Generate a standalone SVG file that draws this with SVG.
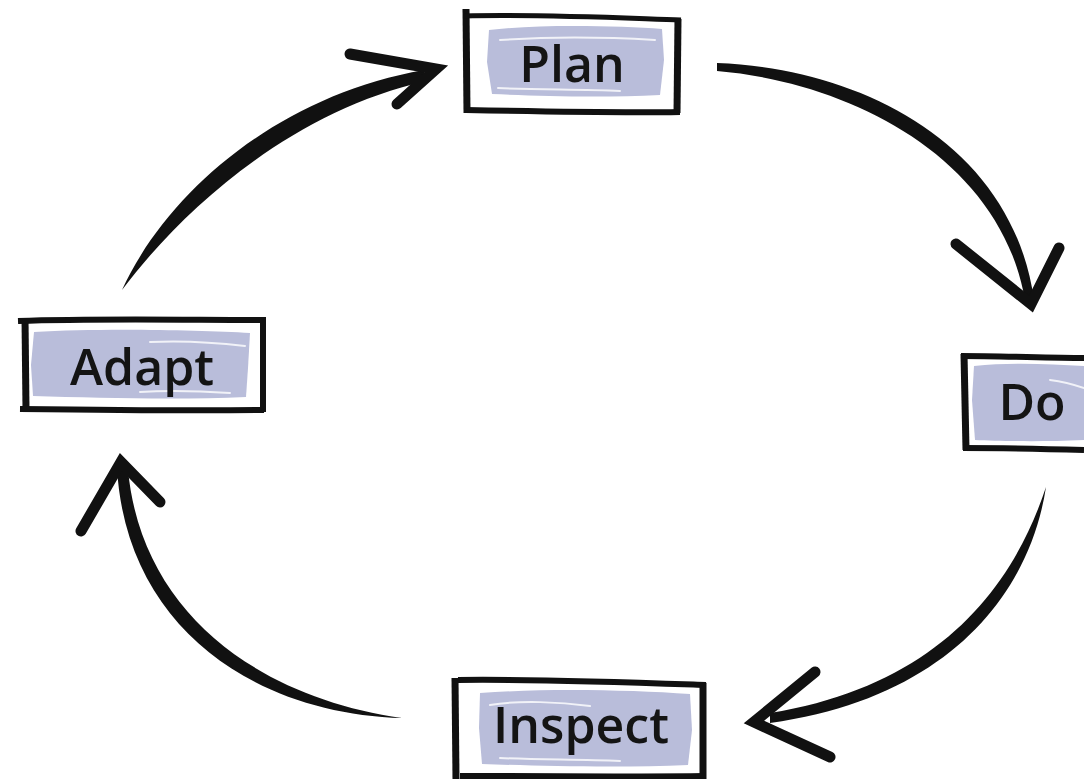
<svg xmlns="http://www.w3.org/2000/svg" width="1084" height="779" viewBox="0 0 1084 779">
<style>
.frame{stroke:#111;fill:none;stroke-linecap:butt}
.fill{fill:#b9bdda}
.streak{stroke:#fff;stroke-width:2;fill:none;opacity:0.8;stroke-linecap:round}
.label{font-family:"Open Sans","Liberation Sans",sans-serif;font-weight:600;font-size:50px;fill:#141414;text-anchor:middle}
.brush{fill:#111}
.head{fill:none;stroke:#111;stroke-width:11;stroke-linejoin:miter;stroke-linecap:round}
</style>
<rect width="1084" height="779" fill="#fff"/>
<g id="connectors">
  <!-- Adapt -> Plan -->
  <path class="brush" d="M122 290 C166 194 276 96 424 70 L426 81 C290 112 182 210 122 290 Z"/>
  <path class="head" d="M350 54 L436 69 L397 104"/>
  <!-- Plan -> Do -->
  <path class="brush" d="M717 63 C858 68 1012 142 1034 300 L1025 300 C1000 156 848 82 717 71 Z"/>
  <path class="head" d="M956 244 L1031 304 L1059 248"/>
  <!-- Do -> Inspect -->
  <path class="brush" d="M1046 487 C1030 592 950 698 770 723 L770 713 C936 686 1012 590 1046 487 Z"/>
  <path class="head" d="M815 672 L754 722 L830 757"/>
  <!-- Inspect -> Adapt -->
  <path class="brush" d="M402 718 C256 714 126 628 117 468 L128 470 C142 616 262 698 402 718 Z"/>
  <path class="head" d="M81 531 L121 462 L160 502"/>
</g>
<g id="node-plan">
  <path class="fill" d="M489 30 C540 24 620 26 662 29 L664 60 L660 95 C600 98 540 96 492 94 L487 62 Z"/>
  <path class="streak" d="M500 40 C560 36 620 38 655 40"/>
  <path class="streak" d="M498 88 C540 90 580 89 620 91"/>
  <path class="frame" stroke-width="7" d="M466 9 L467 113"/>
  <path class="frame" stroke-width="5" d="M464 16 C540 14 620 18 681 20"/>
  <path class="frame" stroke-width="7" d="M678 19 L677 113"/>
  <path class="frame" stroke-width="6" d="M466 110 C560 112 620 113 680 112"/>
  <text class="label" x="572" y="82">Plan</text>
</g>
<g id="node-adapt">
  <path class="fill" d="M34 332 C100 328 200 330 250 333 L248 368 L246 397 C180 400 100 398 33 396 L31 365 Z"/>
  <path class="streak" d="M150 342 C190 340 220 343 245 346"/>
  <path class="streak" d="M140 392 C170 390 200 391 230 393"/>
  <path class="frame" stroke-width="7" d="M25 318 L26 410"/>
  <path class="frame" stroke-width="6" d="M18 321 C100 318 190 320 266 320"/>
  <path class="frame" stroke-width="6" d="M263 318 L263 412"/>
  <path class="frame" stroke-width="6" d="M20 409 C100 410 190 411 264 410"/>
  <text class="label" x="142" y="385">Adapt</text>
</g>
<g id="node-do">
  <path class="fill" d="M974 366 C1010 362 1050 364 1084 366 L1084 440 C1040 442 1000 441 975 440 L972 400 Z"/>
  <path class="streak" d="M1050 380 C1065 382 1075 385 1084 388"/>
  <path class="frame" stroke-width="7" d="M964 354 L966 450"/>
  <path class="frame" stroke-width="6" d="M961 356 C1000 356 1050 358 1084 358"/>
  <path class="frame" stroke-width="6" d="M963 448 C1010 448 1050 449 1084 450"/>
  <text class="label" x="1032" y="420">Do</text>
</g>
<g id="node-inspect">
  <path class="fill" d="M480 693 C550 688 630 690 690 694 L692 730 L688 765 C620 768 540 766 482 764 L479 728 Z"/>
  <path class="streak" d="M490 705 C520 700 560 702 590 706"/>
  <path class="streak" d="M500 758 C540 760 580 759 620 761"/>
  <path class="frame" stroke-width="7" d="M455 678 L456 779"/>
  <path class="frame" stroke-width="6" d="M458 680 C540 679 620 682 706 685"/>
  <path class="frame" stroke-width="7" d="M703 683 L703 779"/>
  <path class="frame" stroke-width="6" d="M460 776 C560 776 640 777 705 776"/>
  <text class="label" x="581" y="743">Inspect</text>
</g>
</svg>
